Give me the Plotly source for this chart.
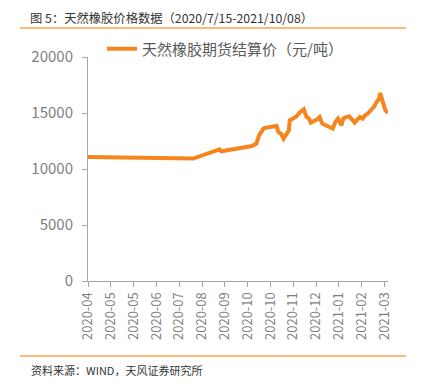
import plotly.graph_objects as go

dates = [
    "2020-04-06", "2020-08-04", "2020-09-03", "2020-09-05", "2020-10-10", "2020-10-15",
    "2020-10-18", "2020-10-23", "2020-10-27", "2020-11-05", "2020-11-07", "2020-11-09",
    "2020-11-12", "2020-11-15", "2020-11-17", "2020-11-21", "2020-11-22", "2020-11-25",
    "2020-11-29", "2020-12-04", "2020-12-08", "2020-12-09", "2020-12-11", "2020-12-14",
    "2020-12-16", "2020-12-19", "2020-12-23", "2020-12-26", "2020-12-29", "2021-01-02",
    "2021-01-06", "2021-01-10", "2021-01-13", "2021-01-16", "2021-01-18", "2021-01-20",
    "2021-01-22", "2021-01-25", "2021-01-29", "2021-02-01", "2021-02-04", "2021-02-07",
    "2021-02-10", "2021-02-13", "2021-02-16", "2021-02-19", "2021-02-22", "2021-02-26",
    "2021-03-01", "2021-03-04", "2021-03-05", "2021-03-07", "2021-03-09", "2021-03-11",
    "2021-03-13", "2021-03-14",
]
prices = [
    11070, 10930, 11760, 11580, 12050, 12270,
    13010, 13610, 13700, 13750, 13840, 13300,
    13160, 12710, 13010, 13450, 14350, 14500,
    14640, 15090, 15330, 15090, 14640, 14500,
    14140, 14260, 14410, 14640, 14050, 13900,
    13750, 13610, 14200, 14500, 14200, 13900,
    14500, 14640, 14700, 14350, 14140, 14410,
    14640, 14500, 14800, 14950, 15240, 15540,
    15980, 16290, 16790, 16290, 15840, 15240,
    15090, 15000,
]

tick_dates = [
    "2020-04-06", "2020-05-02", "2020-05-28", "2020-06-23", "2020-07-19", "2020-08-14",
    "2020-09-09", "2020-10-05", "2020-10-31", "2020-11-26", "2020-12-22", "2021-01-17",
    "2021-02-12", "2021-03-10",
]
tick_labels = [
    "2020-04", "2020-05", "2020-05", "2020-06", "2020-07", "2020-08", "2020-09",
    "2020-10", "2020-10", "2020-11", "2020-12", "2021-01", "2021-02", "2021-03",
]
y_ticks = [0, 5000, 10000, 15000, 20000]
y_tick_labels = ["0", "5000", "10000", "15000", "20000"]

series_name = "天然橡胶期货结算价（元/吨）"
title_text = "图 5：天然橡胶价格数据（2020/7/15-2021/10/08）"
source_text = "资料来源：WIND，天风证券研究所"

FONT = "Noto Sans CJK SC"
ORANGE = "#f7851f"
AXIS = "#a6a6a6"
TICKC = "#7f7f7f"

fig = go.Figure()
fig.add_trace(go.Scatter(
    x=dates, y=prices, mode="lines", name=series_name,
    line=dict(color=ORANGE, width=4),
))

# page body has an 8px margin; work in reference pixel coords minus 8
OFF = 8
W, H = 421 - OFF, 385 - OFF
L, R, T, B = 88 - OFF, 421 - 388, 57 - OFF, 385 - 281
pw, ph = W - L - R, H - T - B

def px_x(x):
    return (x - OFF - L) / pw

def px_y(y):
    return (H - B - (y - OFF)) / ph

fig.update_layout(
    width=W, height=H,
    margin=dict(l=L, r=R, t=T, b=B),
    paper_bgcolor="white", plot_bgcolor="white",
    font=dict(family=FONT, color=TICKC),
    showlegend=True,
    legend=dict(
        orientation="h", x=px_x(102), y=px_y(49), xanchor="left", yanchor="middle",
        font=dict(size=15, color="#595959", family=FONT),
        itemwidth=30, bgcolor="rgba(0,0,0,0)",
    ),
    xaxis=dict(
        type="date", range=["2020-04-06", "2021-03-14"],
        tickvals=tick_dates, ticktext=tick_labels, tickangle=-90,
        showline=True, linecolor=AXIS, linewidth=1,
        ticks="outside", tickcolor=AXIS, ticklen=5,
        showgrid=False, zeroline=False, automargin=False,
        tickfont=dict(size=13, color=TICKC, family=FONT),
    ),
    yaxis=dict(
        range=[0, 20000], tickvals=y_ticks, ticktext=y_tick_labels,
        showline=True, linecolor=AXIS, linewidth=1,
        ticks="outside", tickcolor=AXIS, ticklen=5,
        showgrid=False, zeroline=False, automargin=False,
        ticklabelstandoff=6,
        tickfont=dict(size=15, color=TICKC, family=FONT),
    ),
    shapes=[
        dict(type="line", xref="paper", yref="paper",
             x0=px_x(20), x1=px_x(406), y0=px_y(28), y1=px_y(28),
             line=dict(color="#f9a550", width=1.5)),
        dict(type="line", xref="paper", yref="paper",
             x0=px_x(20), x1=px_x(406), y0=px_y(356), y1=px_y(356),
             line=dict(color="#f9a550", width=1.5)),
    ],
    annotations=[
        dict(text=title_text, xref="paper", yref="paper",
             x=px_x(29), y=px_y(8), xanchor="left", yanchor="top",
             borderpad=0,
             showarrow=False, font=dict(size=12.3, color="#333333", family=FONT)),
        dict(text=source_text, xref="paper", yref="paper",
             x=px_x(29), y=px_y(370), xanchor="left", yanchor="middle",
             showarrow=False, font=dict(size=11, color="#333333", family=FONT)),
    ],
)

fig.write_html("out.html")
